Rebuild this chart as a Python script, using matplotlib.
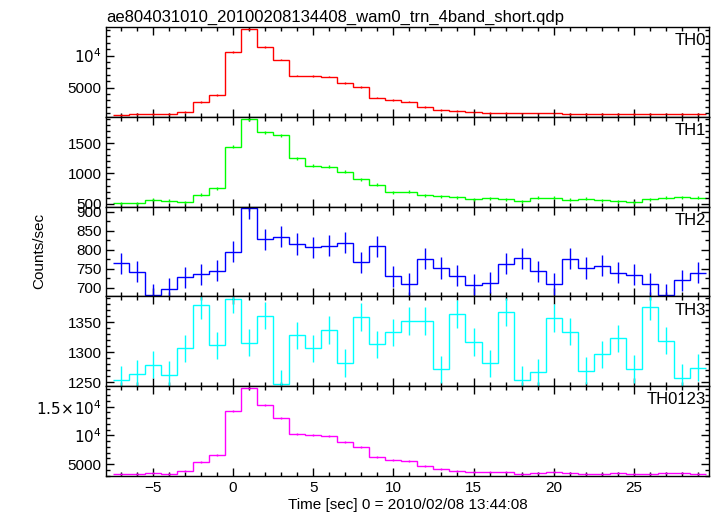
import numpy as np
import matplotlib.pyplot as plt
from matplotlib.ticker import MultipleLocator, FuncFormatter

plt.rcParams['font.family'] = ['Liberation Sans', 'DejaVu Sans']

# bin centres (1 s bins)
time = np.arange(-7, 30)

th0 = [734, 844, 844, 830, 1203, 2719, 3812, 10578, 14125, 11360, 9375, 6875, 6800, 6720,
       5730, 5060, 3440, 3080, 2780, 1930, 1516, 1310, 1094, 1040, 1000, 937, 937, 937,
       850, 860, 860, 850, 845, 850, 900, 880, 850]
th1 = [511, 511, 563, 547, 520, 650, 753, 1441, 1898, 1682, 1629, 1253, 1124, 1113,
       1027, 903, 811, 689, 699, 640, 624, 608, 576, 586, 570, 543, 597, 597,
       565, 581, 554, 543, 527, 570, 602, 608, 597]
th2 = [764, 742, 681, 697, 727, 735, 745, 795, 909, 828, 835, 815, 807, 811,
       819, 767, 809, 730, 710, 777, 752, 732, 708, 713, 763, 778, 743, 710,
       777, 752, 758, 740, 734, 710, 681, 719, 740]
th3 = [1254, 1264, 1279, 1262, 1306, 1378, 1311, 1389, 1316, 1361, 1247, 1328, 1306, 1337,
       1282, 1359, 1313, 1333, 1352, 1352, 1271, 1364, 1317, 1281, 1367, 1253, 1266, 1357,
       1334, 1269, 1296, 1323, 1272, 1376, 1319, 1257, 1274]
th0123 = [3247, 3300, 3424, 3247, 3774, 5353, 6580, 14230, 18260, 15280, 13070, 10320, 10090, 9913,
          8860, 8036, 6282, 5810, 5500, 4704, 4125, 3880, 3600, 3650, 3650, 3354, 3450, 3600,
          3450, 3300, 3354, 3400, 3300, 3354, 3400, 3400, 3354]

errors = [120, 25, 28, 23, 170]
names = ['TH0', 'TH1', 'TH2', 'TH3', 'TH0123']
colors = ['#ff0000', '#00ff00', '#0000ff', '#00ffff', '#ff00ff']
ylims = [(420, 14480), (452, 1935), (677, 914), (1243, 1393), (2950, 18560)]
majors = [5000, 500, 50, 50, 5000]
minors = [1000, 100, 25, 10, 1000]
series = [th0, th1, th2, th3, th0123]


def fmt_big(v, pos):
    if v == 10000:
        return r'$10^4$'
    if v == 15000:
        return r'$1.5\!\times\!10^4$'
    return '%d' % v


fig, axes = plt.subplots(5, 1, figsize=(7.17, 5.16), dpi=100, sharex=True)
fig.subplots_adjust(left=0.1485, right=0.989, top=0.9477, bottom=0.0775, hspace=0)

edges = np.append(time - 0.5, time[-1] + 0.5)
for i, ax in enumerate(axes):
    y = series[i]
    ax.stairs(y, edges, baseline=None, color=colors[i], lw=1)
    ax.errorbar(time, y, yerr=errors[i], fmt='none', ecolor=colors[i], elinewidth=1)
    ax.set_xlim(-7.9, 29.7)
    ax.set_ylim(*ylims[i])
    ax.yaxis.set_major_locator(MultipleLocator(majors[i]))
    ax.yaxis.set_minor_locator(MultipleLocator(minors[i]))
    ax.xaxis.set_major_locator(MultipleLocator(5))
    ax.xaxis.set_minor_locator(MultipleLocator(1))
    if i in (0, 4):
        ax.yaxis.set_major_formatter(FuncFormatter(fmt_big))
    ax.tick_params(which='both', direction='in', top=True, right=True, labelsize=11)
    ax.tick_params(which='major', length=6, width=1)
    ax.tick_params(which='minor', length=3, width=1)
    for s in ax.spines.values():
        s.set_linewidth(1)
    ax.text(0.995, 0.93, names[i], transform=ax.transAxes, ha='right', va='top', fontsize=12)

axes[0].set_title('ae804031010_20100208134408_wam0_trn_4band_short.qdp', loc='left', fontsize=12, pad=4)
axes[-1].set_xlabel('Time [sec] 0 = 2010/02/08 13:44:08', fontsize=11, labelpad=2)
fig.text(0.055, 0.513, 'Counts/sec', rotation=90, ha='center', va='center', fontsize=11)

fig.savefig('out.png', dpi=100)
